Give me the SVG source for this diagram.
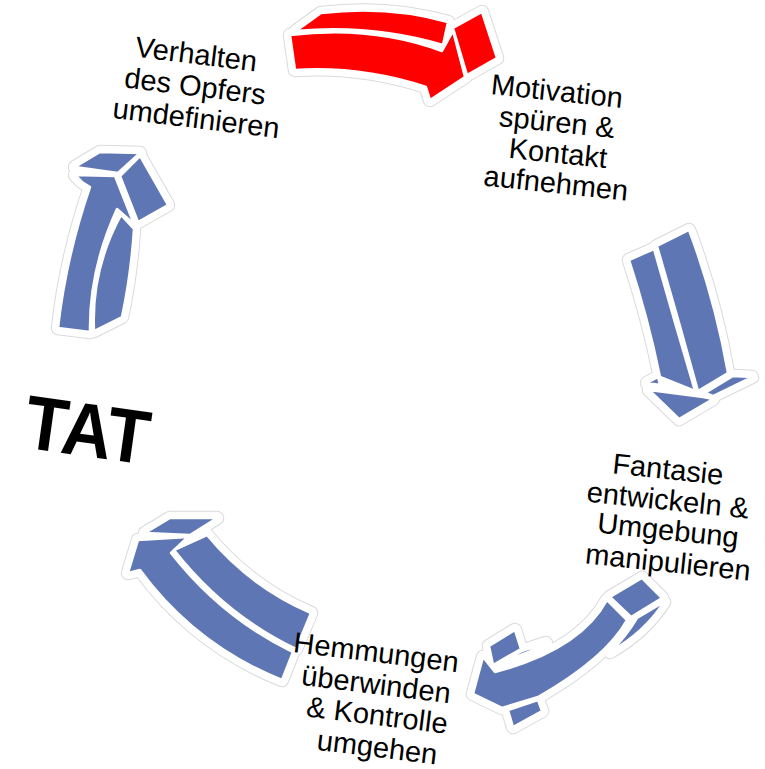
<svg xmlns="http://www.w3.org/2000/svg" xmlns:xlink="http://www.w3.org/1999/xlink" width="765" height="769" viewBox="0 0 765 769">
<style>
.halo{fill:#fff;stroke:#dadada;stroke-width:14.5;stroke-linejoin:round}
.halo2{fill:#fff;stroke:#fff;stroke-width:12.5;stroke-linejoin:round}
.blue{fill:#5e76b3;stroke:#fff;stroke-width:2.5;stroke-linejoin:round}
.red{fill:#ff0000;stroke:#fff;stroke-width:2.5;stroke-linejoin:round}
.lbl{font-family:"Liberation Sans",Arial,sans-serif;font-size:29px;fill:#000;text-anchor:middle}
.tat{font-family:"Liberation Sans",Arial,sans-serif;font-size:76px;font-weight:bold;fill:#000;text-anchor:middle}
</style>
<defs>
<g id="a1">
<path d="M296,31 L321,13 Q388,5 448,22 L443,45 Q372,24 296,31 Z"/>
<path d="M290,35 Q372,25 442,51 L453,31 L465,77 L430,100 L426,87 Q362,66 295,70 Z"/>
<path d="M453,28 L482,12 L497,58 L467,75 Z"/>
</g>
<g id="a2">
<path d="M629,260 L654,249 Q674,320 695,391 L660,377 Q648,318 629,260 Z"/>
<path d="M657,246 L689,230 Q715,299 728,373 L698,391 Q678,318 657,246 Z"/>
<path d="M647,383 L658,377 L660,385 Z"/>
<path d="M705,393 L733,376 L752,377 L713,396 Z"/>
<path d="M649,390 L703,397 L713,399 L679,419 Z"/>
</g>
<g id="a3">
<path d="M610,597 L642,578 L662,598 L631,617 Z"/>
<path d="M637,618 L664,602 Q645,632 610,652 Q625,638 637,618 Z"/>
<path d="M607,600 Q580,650 495,672 L483,657 L473,694 L502,708 L538,697 Q606,658 627,620 Z"/>
<path d="M489,646 L515,630 L521,649 L493,665 Z"/>
<path d="M507,659 L522,651 L546,643 Q528,654 507,659 Z"/>
<path d="M508,710 L538,700 L542,711 L513,727 Z"/>
</g>
<g id="a4">
<path d="M145,533 L170,518 L217,518 L190,535 Z"/>
<path d="M138,540 L188,537 L171,553 Q222,618 293,652 L282,680 Q195,645 140,570 L128,573 Z"/>
<path d="M174,550 L207,535 Q250,587 311,613 L296,649 Q225,615 174,550 Z"/>
</g>
<g id="a5">
<path d="M75,167 L100,152 L140,153 L118,173 Z"/>
<path d="M120,176 L140,156 L168,205 L138,222 Z"/>
<path d="M75,175 L115,176 L134,224 L117,209 Q89,270 90,332 L58,328 Q66,257 90,187 L82,182 Z"/>
<path d="M121,215 L134,229 Q131,275 122,317 L94,331 Q91,270 121,215 Z"/>
</g>
</defs>
<g id="connectors">
<g id="arrow-red"><use xlink:href="#a1" class="halo"/><use xlink:href="#a1" class="halo2"/><use xlink:href="#a1" class="red"/></g>
<g id="arrow-right"><use xlink:href="#a2" class="halo"/><use xlink:href="#a2" class="halo2"/><use xlink:href="#a2" class="blue"/></g>
<g id="arrow-bottom"><use xlink:href="#a3" class="halo"/><use xlink:href="#a3" class="halo2"/><use xlink:href="#a3" class="blue"/></g>
<g id="arrow-bottomleft"><use xlink:href="#a4" class="halo"/><use xlink:href="#a4" class="halo2"/><use xlink:href="#a4" class="blue"/></g>
<g id="arrow-left"><use xlink:href="#a5" class="halo"/><use xlink:href="#a5" class="halo2"/><use xlink:href="#a5" class="blue"/></g>
</g>
<g id="node-verhalten">
<text class="lbl" x="195" y="64" transform="rotate(7 195 64)">Verhalten</text>
<text class="lbl" x="194" y="96" transform="rotate(7 194 96)">des Opfers</text>
<text class="lbl" x="195" y="128" transform="rotate(7 195 128)">umdefinieren</text>
</g>
<g id="node-motivation">
<text class="lbl" x="556" y="101" transform="rotate(6 556 101)">Motivation</text>
<text class="lbl" x="556" y="132" transform="rotate(6 556 132)">spüren &amp;</text>
<text class="lbl" x="557" y="163" transform="rotate(6 557 163)">Kontakt</text>
<text class="lbl" x="555" y="193" transform="rotate(6 555 193)">aufnehmen</text>
</g>
<g id="node-fantasie">
<text class="lbl" x="667" y="479" transform="rotate(6 667 479)">Fantasie</text>
<text class="lbl" x="667" y="510" transform="rotate(6 667 510)">entwickeln &amp;</text>
<text class="lbl" x="667" y="540" transform="rotate(6 667 540)">Umgebung</text>
<text class="lbl" x="667" y="572" transform="rotate(6 667 572)">manipulieren</text>
</g>
<g id="node-hemmungen">
<text class="lbl" x="375" y="662" transform="rotate(7 375 662)">Hemmungen</text>
<text class="lbl" x="375" y="694" transform="rotate(7 375 694)">überwinden</text>
<text class="lbl" x="376" y="725" transform="rotate(7 376 725)">&amp; Kontrolle</text>
<text class="lbl" x="376" y="757" transform="rotate(7 376 757)">umgehen</text>
</g>
<g id="node-tat" transform="translate(84,456) rotate(8)">
<text class="tat" x="0" y="0" textLength="125" lengthAdjust="spacingAndGlyphs">TAT</text>
</g>
</svg>
